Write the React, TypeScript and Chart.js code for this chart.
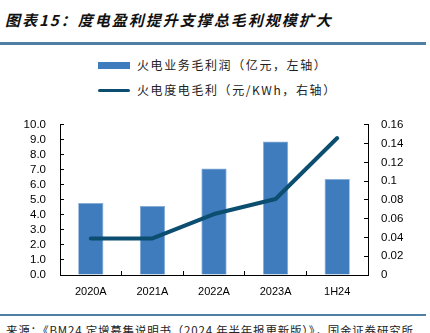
import React, { useEffect, useRef } from "react";
import { Chart, registerables } from "chart.js";

Chart.register(...registerables);

const categories = ["2020A", "2021A", "2022A", "2023A", "1H24"];
const grossProfit = [4.8, 4.6, 7.1, 8.9, 6.4];
const unitMargin = [0.039, 0.039, 0.065, 0.081, 0.146];
const leftTicks = { min: 0, max: 10, step: 1 };
const rightTicks = { min: 0, max: 0.16, step: 0.02 };

const titleText = "图表15：度电盈利提升支撑总毛利规模扩大";
const barLabel = "火电业务毛利润（亿元，左轴）";
const lineLabel = "火电度电毛利（元/KWh，右轴）";
const sourceText = "来源：《BM24 定增募集说明书（2024 年半年报更新版）》，国金证券研究所";

const BAR_COLOR = "#3e7cbe";
const LINE_COLOR = "#0b4e70";
const RULE_COLOR = "#4f7fa3";

export default function App() {
  const ref = useRef<HTMLCanvasElement | null>(null);

  useEffect(() => {
    document.body.style.margin = "0";
    const ctx = ref.current;
    if (!ctx) return;
    const tickFont = { family: "Arial, 'Liberation Sans', sans-serif", size: 11.5 };
    const chart = new Chart(ctx, {
      data: {
        labels: categories,
        datasets: [
          {
            type: "line",
            label: lineLabel,
            data: unitMargin,
            yAxisID: "y1",
            borderColor: LINE_COLOR,
            backgroundColor: LINE_COLOR,
            borderWidth: 4,
            pointRadius: 0,
            tension: 0,
            borderCapStyle: "round",
            borderJoinStyle: "round",
            order: 0,
          },
          {
            type: "bar",
            label: barLabel,
            data: grossProfit,
            yAxisID: "y",
            backgroundColor: BAR_COLOR,
            borderColor: "#82a9d6",
            borderWidth: 0.8,
            barPercentage: 0.41,
            categoryPercentage: 1,
            order: 1,
          },
        ],
      },
      options: {
        animation: false,
        responsive: false,
        maintainAspectRatio: false,
        layout: { padding: { top: 17, left: 0, right: 0, bottom: 0 } },
        plugins: { legend: { display: false }, tooltip: { enabled: false } },
        scales: {
          x: {
            offset: true,
            grid: {
              offset: true,
              drawOnChartArea: false,
              drawTicks: true,
              tickLength: -4,
              color: "#000",
            },
            border: { display: true, color: "#000", width: 1 },
            ticks: { color: "#000", font: { ...tickFont, size: 11 }, padding: 14, maxRotation: 0 },
            afterFit: (s: any) => {
              s.height = 30;
            },
          },
          y: {
            position: "left",
            min: leftTicks.min,
            max: leftTicks.max,
            grid: { drawOnChartArea: false, drawTicks: true, tickLength: -4, color: "#000" },
            border: { display: true, color: "#000", width: 1 },
            ticks: {
              stepSize: leftTicks.step,
              autoSkip: false,
              color: "#000",
              font: tickFont,
              padding: 18,
              callback: (v: any) => Number(v).toFixed(1),
            },
            afterFit: (s: any) => {
              s.width = 60;
            },
          },
          y1: {
            position: "right",
            min: rightTicks.min,
            max: rightTicks.max,
            grid: { drawOnChartArea: false, drawTicks: true, tickLength: -4, color: "#000" },
            border: { display: true, color: "#000", width: 1 },
            ticks: {
              stepSize: rightTicks.step,
              autoSkip: false,
              color: "#000",
              font: tickFont,
              padding: 17,
              callback: (v: any) => String(+Number(v).toFixed(2)),
            },
            afterFit: (s: any) => {
              s.width = 62;
            },
          },
        },
      },
    } as any);
    return () => chart.destroy();
  }, []);

  const cjk = "'Noto Sans CJK SC', 'Noto Sans', sans-serif";

  return (
    <div style={{ position: "relative", width: 430, height: 333, overflow: "hidden", background: "#fff" }}>
      <div
        style={{
          position: "absolute",
          left: 5,
          top: 10,
          fontFamily: cjk,
          fontSize: 15,
          fontStyle: "italic",
          fontWeight: 700,
          letterSpacing: 2,
          lineHeight: "20px",
          color: "#111",
          whiteSpace: "nowrap",
        }}
      >
        {titleText}
      </div>
      <div style={{ position: "absolute", left: 0, top: 42, width: 426, height: 2.5, background: RULE_COLOR }} />

      <div style={{ position: "absolute", left: 98, top: 61.5, width: 32, height: 7.5, background: BAR_COLOR }} />
      <div
        style={{
          position: "absolute",
          left: 137,
          top: 57,
          fontFamily: cjk,
          fontSize: 12,
          letterSpacing: 1.6,
          lineHeight: "16px",
          color: "#222",
          whiteSpace: "nowrap",
        }}
      >
        {barLabel}
      </div>
      <div
        style={{ position: "absolute", left: 98, top: 88.5, width: 32, height: 3.5, borderRadius: 2, background: LINE_COLOR }}
      />
      <div
        style={{
          position: "absolute",
          left: 137,
          top: 82,
          fontFamily: cjk,
          fontSize: 12,
          letterSpacing: 1.6,
          lineHeight: "16px",
          color: "#222",
          whiteSpace: "nowrap",
        }}
      >
        {lineLabel}
      </div>

      <canvas ref={ref} width={430} height={205} style={{ position: "absolute", left: 0, top: 100, width: 430, height: 205 }} />

      <div style={{ position: "absolute", left: 0, top: 314, width: 426, height: 2, background: RULE_COLOR }} />
      <div
        style={{
          position: "absolute",
          left: 6,
          top: 322,
          fontFamily: cjk,
          fontSize: 11.5,
          letterSpacing: 0.8,
          lineHeight: "16px",
          color: "#222",
          whiteSpace: "nowrap",
        }}
      >
        {sourceText}
      </div>
    </div>
  );
}
